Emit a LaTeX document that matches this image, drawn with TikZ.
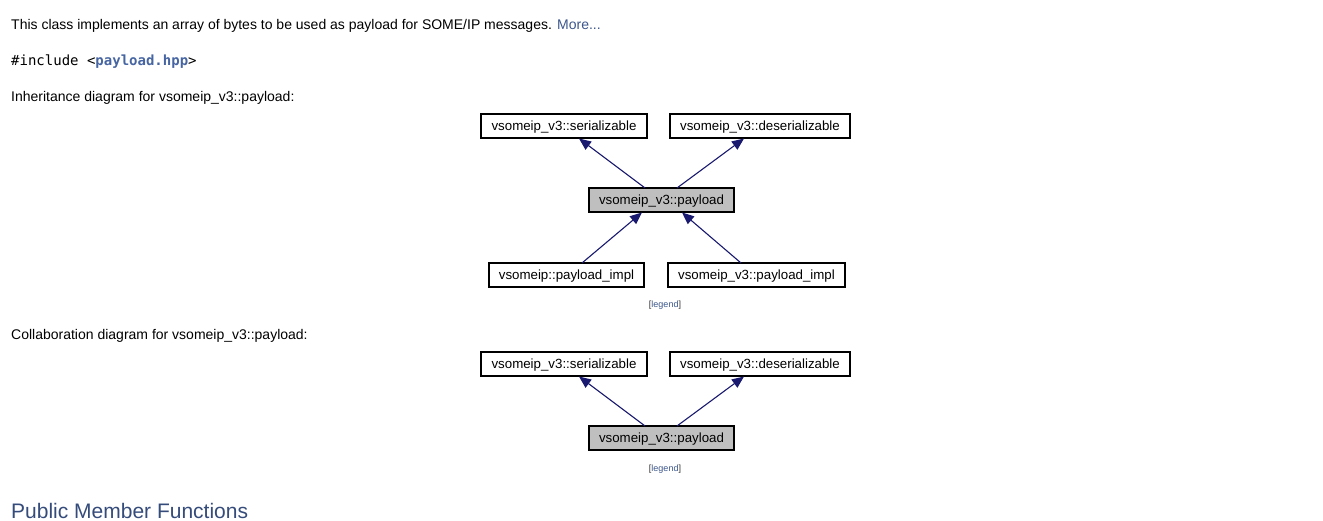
\documentclass[tikz,border=0pt]{standalone}
\usepackage{fontspec}
\setmainfont{Liberation Sans}
\newfontfamily\monofont{DejaVu Sans Mono}
\usetikzlibrary{arrows.meta}
\definecolor{edgeblue}{HTML}{191970}
\definecolor{linkblue}{HTML}{3D578C}
\definecolor{codeblue}{HTML}{4665A2}
\definecolor{headblue}{HTML}{354C7B}
\definecolor{boxgray}{HTML}{BFBFBF}
\tikzset{
  cls/.style={draw=black, line width=1.2pt, fill=white, inner sep=0pt, minimum height=24pt,
    font=\fontsize{13.3}{14}\selectfont, text height=10.5pt, text depth=1.7pt},
  cur/.style={cls, fill=boxgray},
  inh/.style={draw=edgeblue, line width=1.1pt, -{Triangle[length=12pt,width=10pt]}},
  body/.style={anchor=base west, inner sep=0pt, font=\fontsize{14}{16}\selectfont},
  legendtxt/.style={inner sep=0pt, font=\fontsize{9}{10}\selectfont},
}
\begin{document}
\begin{tikzpicture}[x=1pt,y=-1pt]
\useasboundingbox[fill=white] (0,0) rectangle (1323,521);

\node[body] (intro) at (11,29.5) {This class implements an array of bytes to be used as payload for SOME/IP messages. \textcolor{linkblue}{More...}};
\node[body, font=\monofont\fontsize{14}{16}\selectfont] (incl) at (11,66) {\#include <\textcolor{codeblue}{\textbf{payload.hpp}}>};
\node[body] (inhtitle) at (11,102) {Inheritance diagram for vsomeip\_v3::payload:};

% inheritance diagram
\node[cls, minimum width=166pt] (ser) at (564,126) {vsomeip\_v3::serializable};
\node[cls, minimum width=180pt] (des) at (760,126) {vsomeip\_v3::deserializable};
\node[cur, minimum width=145pt] (pay) at (661.5,200) {vsomeip\_v3::payload};
\node[cls, minimum width=155pt] (imp1) at (566.5,275) {vsomeip::payload\_impl};
\node[cls, minimum width=177pt] (imp2) at (756.5,275) {vsomeip\_v3::payload\_impl};
\node[legendtxt] (leg1) at (665,305.5) {\textcolor{black!80}{[}\textcolor{linkblue}{legend}\textcolor{black!80}{]}};

\coordinate (p1) at (645,188);
\coordinate (p2) at (677,188);
\coordinate (t1) at (579,138.5);
\coordinate (t2) at (744,138.5);
\draw[inh] (p1) -- (t1);
\draw[inh] (p2) -- (t2);
\coordinate (i1) at (582,263);
\coordinate (i2) at (741,263);
\coordinate (u1) at (642,212.5);
\coordinate (u2) at (682,212.5);
\draw[inh] (i1) -- (u1);
\draw[inh] (i2) -- (u2);

\node[body] (coltitle) at (11,340) {Collaboration diagram for vsomeip\_v3::payload:};

% collaboration diagram
\node[cls, minimum width=166pt] (cser) at (564,364) {vsomeip\_v3::serializable};
\node[cls, minimum width=180pt] (cdes) at (760,364) {vsomeip\_v3::deserializable};
\node[cur, minimum width=145pt] (cpay) at (661.5,438) {vsomeip\_v3::payload};
\node[legendtxt] (leg2) at (665,469.5) {\textcolor{black!80}{[}\textcolor{linkblue}{legend}\textcolor{black!80}{]}};
\coordinate (cp1) at (645,426);
\coordinate (cp2) at (677,426);
\coordinate (ct1) at (579,376.5);
\coordinate (ct2) at (744,376.5);
\draw[inh] (cp1) -- (ct1);
\draw[inh] (cp2) -- (ct2);

\node[body, font=\fontsize{21}{23}\selectfont, text=headblue] (pubmem) at (11,518) {Public Member Functions};
\end{tikzpicture}
\end{document}
